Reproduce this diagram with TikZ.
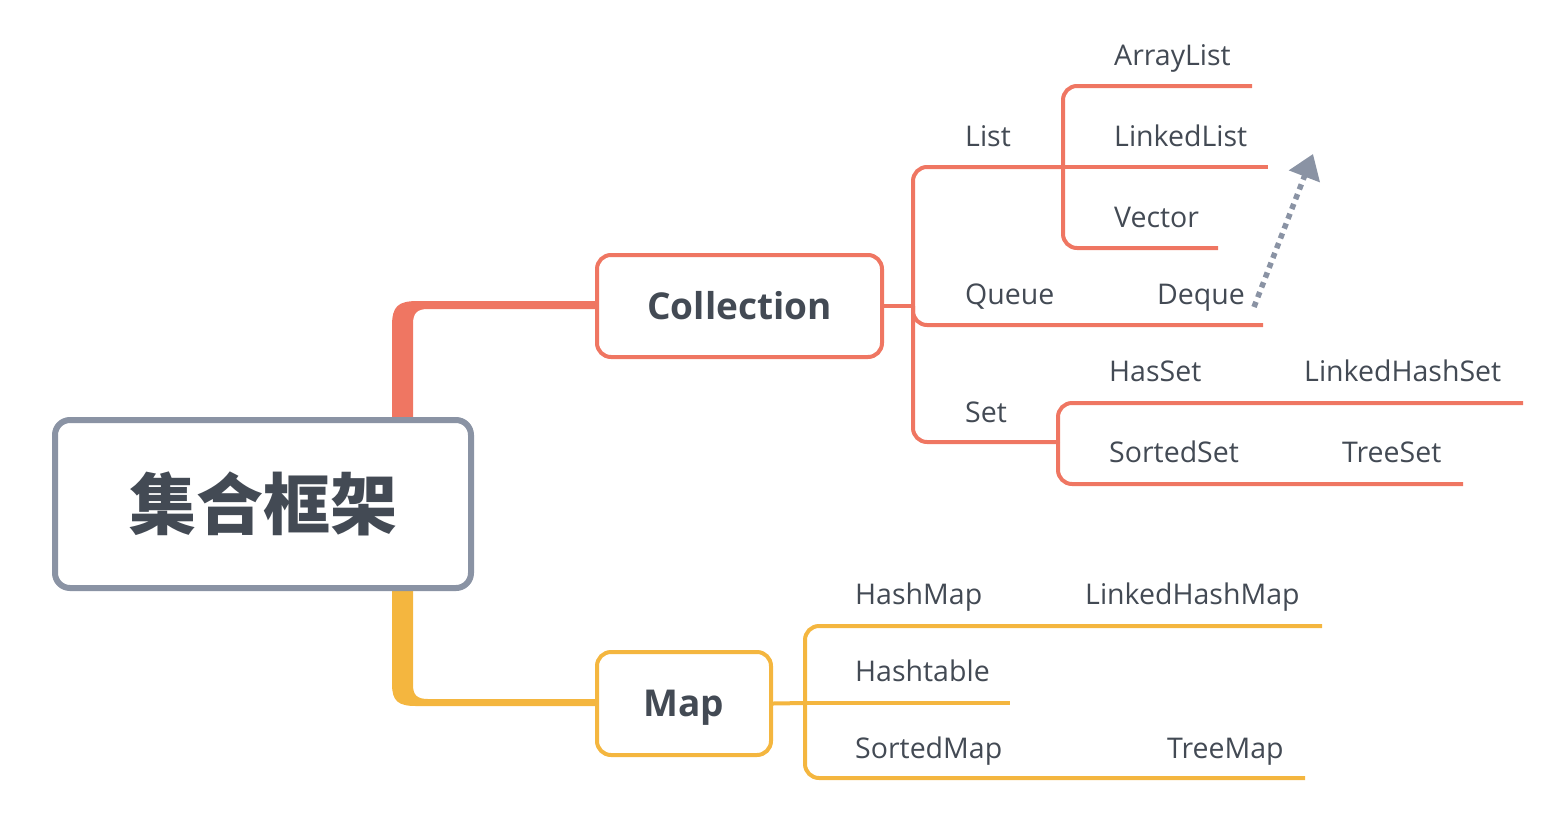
\documentclass[tikz,border=0pt]{standalone}
\usepackage{fontspec}
\setmainfont{Open Sans}
\newfontfamily\cjkfont{Noto Sans CJK SC}
\usetikzlibrary{arrows.meta,backgrounds}
\definecolor{rcol}{HTML}{EF7662}
\definecolor{ycol}{HTML}{F4B63F}
\definecolor{gcol}{HTML}{8A93A4}
\definecolor{tcol}{HTML}{434A54}
\tikzset{
  lbl/.style={anchor=base west, inner sep=0pt, text=tcol, font=\fontsize{28.5}{30}\selectfont},
  topic/.style={draw, line width=4pt, fill=white, rounded corners=14pt, inner sep=0pt,
    text=tcol, font=\fontsize{37}{40}\selectfont\bfseries, text height=26pt, text depth=0pt},
  rline/.style={draw=rcol, line width=4pt, rounded corners=14pt},
  yline/.style={draw=ycol, line width=4pt, rounded corners=14pt},
}
\begin{document}
\begin{tikzpicture}[x=1pt,y=-1pt]
\useasboundingbox (0,0) rectangle (1568,828);
% central topic
\node[draw=gcol, line width=6pt, fill=white, rounded corners=15pt, minimum width=416pt, minimum height=168pt,
  inner sep=0pt, text=tcol, font=\cjkfont\fontsize{67}{70}\selectfont\bfseries] (root) at (263,504) {集合框架};
% main topics
\node[topic, draw=rcol, minimum width=285pt, minimum height=102pt] (coll) at (739.5,306) {Collection};
\node[topic, draw=ycol, minimum width=174pt, minimum height=103pt] (map) at (684,703.5) {Map};
% thick branches
\begin{scope}[on background layer]
\fill[rcol] (392,425) -- (392,326) .. controls (392,306) and (398,301) .. (418,301) -- (600,301)
  -- (600,309) -- (428,309) .. controls (417,309) and (413,313) .. (413,324) -- (413,425) -- cycle;
\fill[ycol] (392,585) -- (392,684) .. controls (392,701) and (398,706) .. (416,706) -- (600,706)
  -- (600,699) -- (428,699) .. controls (417,699) and (413,695) .. (413,685) -- (413,585) -- cycle;
\end{scope}
% junctions and line ends
\coordinate (cj) at (913,306);
\coordinate (lj) at (1063,167);
\coordinate (alend) at (1252,86);
\coordinate (llend) at (1268,167);
\coordinate (vend) at (1218,248);
\coordinate (qend) at (1263,325);
\coordinate (sj) at (1058,442);
\coordinate (hsend) at (1523,403);
\coordinate (tsend) at (1463,484);
\coordinate (mj) at (805,703);
\coordinate (hmend) at (1322,626);
\coordinate (htend) at (1010,703);
\coordinate (tmend) at (1305,778);
% collection connectors
\draw[rline] (coll.east) -- (cj);
\draw[rline] (cj) |- (lj);
\draw[rline] (lj) -- (llend);
\draw[rline] (lj) |- (alend);
\draw[rline] (lj) |- (vend);
\draw[rline] (cj) |- (qend);
\draw[rline] (cj) |- (sj);
\draw[rline] (sj) |- (hsend);
\draw[rline] (sj) |- (tsend);
% map connectors
\draw[yline] (map.east) -- (mj);
\draw[yline] (mj) |- (hmend);
\draw[yline] (mj) -- (htend);
\draw[yline] (mj) |- (tmend);
% labels
\node[lbl] (arraylist) at (1114,65) {ArrayList};
\node[lbl] (list) at (965,146) {List};
\node[lbl] (linkedlist) at (1114,146) {LinkedList};
\node[lbl] (vector) at (1114,227) {Vector};
\node[lbl] (queue) at (965,304) {Queue};
\node[lbl] (deque) at (1157,304) {Deque};
\node[lbl] (hasset) at (1109,381) {HasSet};
\node[lbl] (lhset) at (1304,381) {LinkedHashSet};
\node[lbl] (set) at (965,422) {Set};
\node[lbl] (sortedset) at (1109,462) {SortedSet};
\node[lbl] (treeset) at (1342,462) {TreeSet};
\node[lbl] (hashmap) at (855,604) {HashMap};
\node[lbl] (lhmap) at (1085,604) {LinkedHashMap};
\node[lbl] (hashtable) at (855,681) {Hashtable};
\node[lbl] (sortedmap) at (855,758) {SortedMap};
\node[lbl] (treemap) at (1167,758) {TreeMap};
% relationship arrow
\coordinate (dqa) at (1254,307);
\coordinate (lla) at (1313,154);
\draw[gcol, line width=5.5pt, dash pattern=on 5.5pt off 5pt, -{Triangle[length=24pt,width=32pt]}] (dqa) -- (lla);
\end{tikzpicture}
\end{document}
